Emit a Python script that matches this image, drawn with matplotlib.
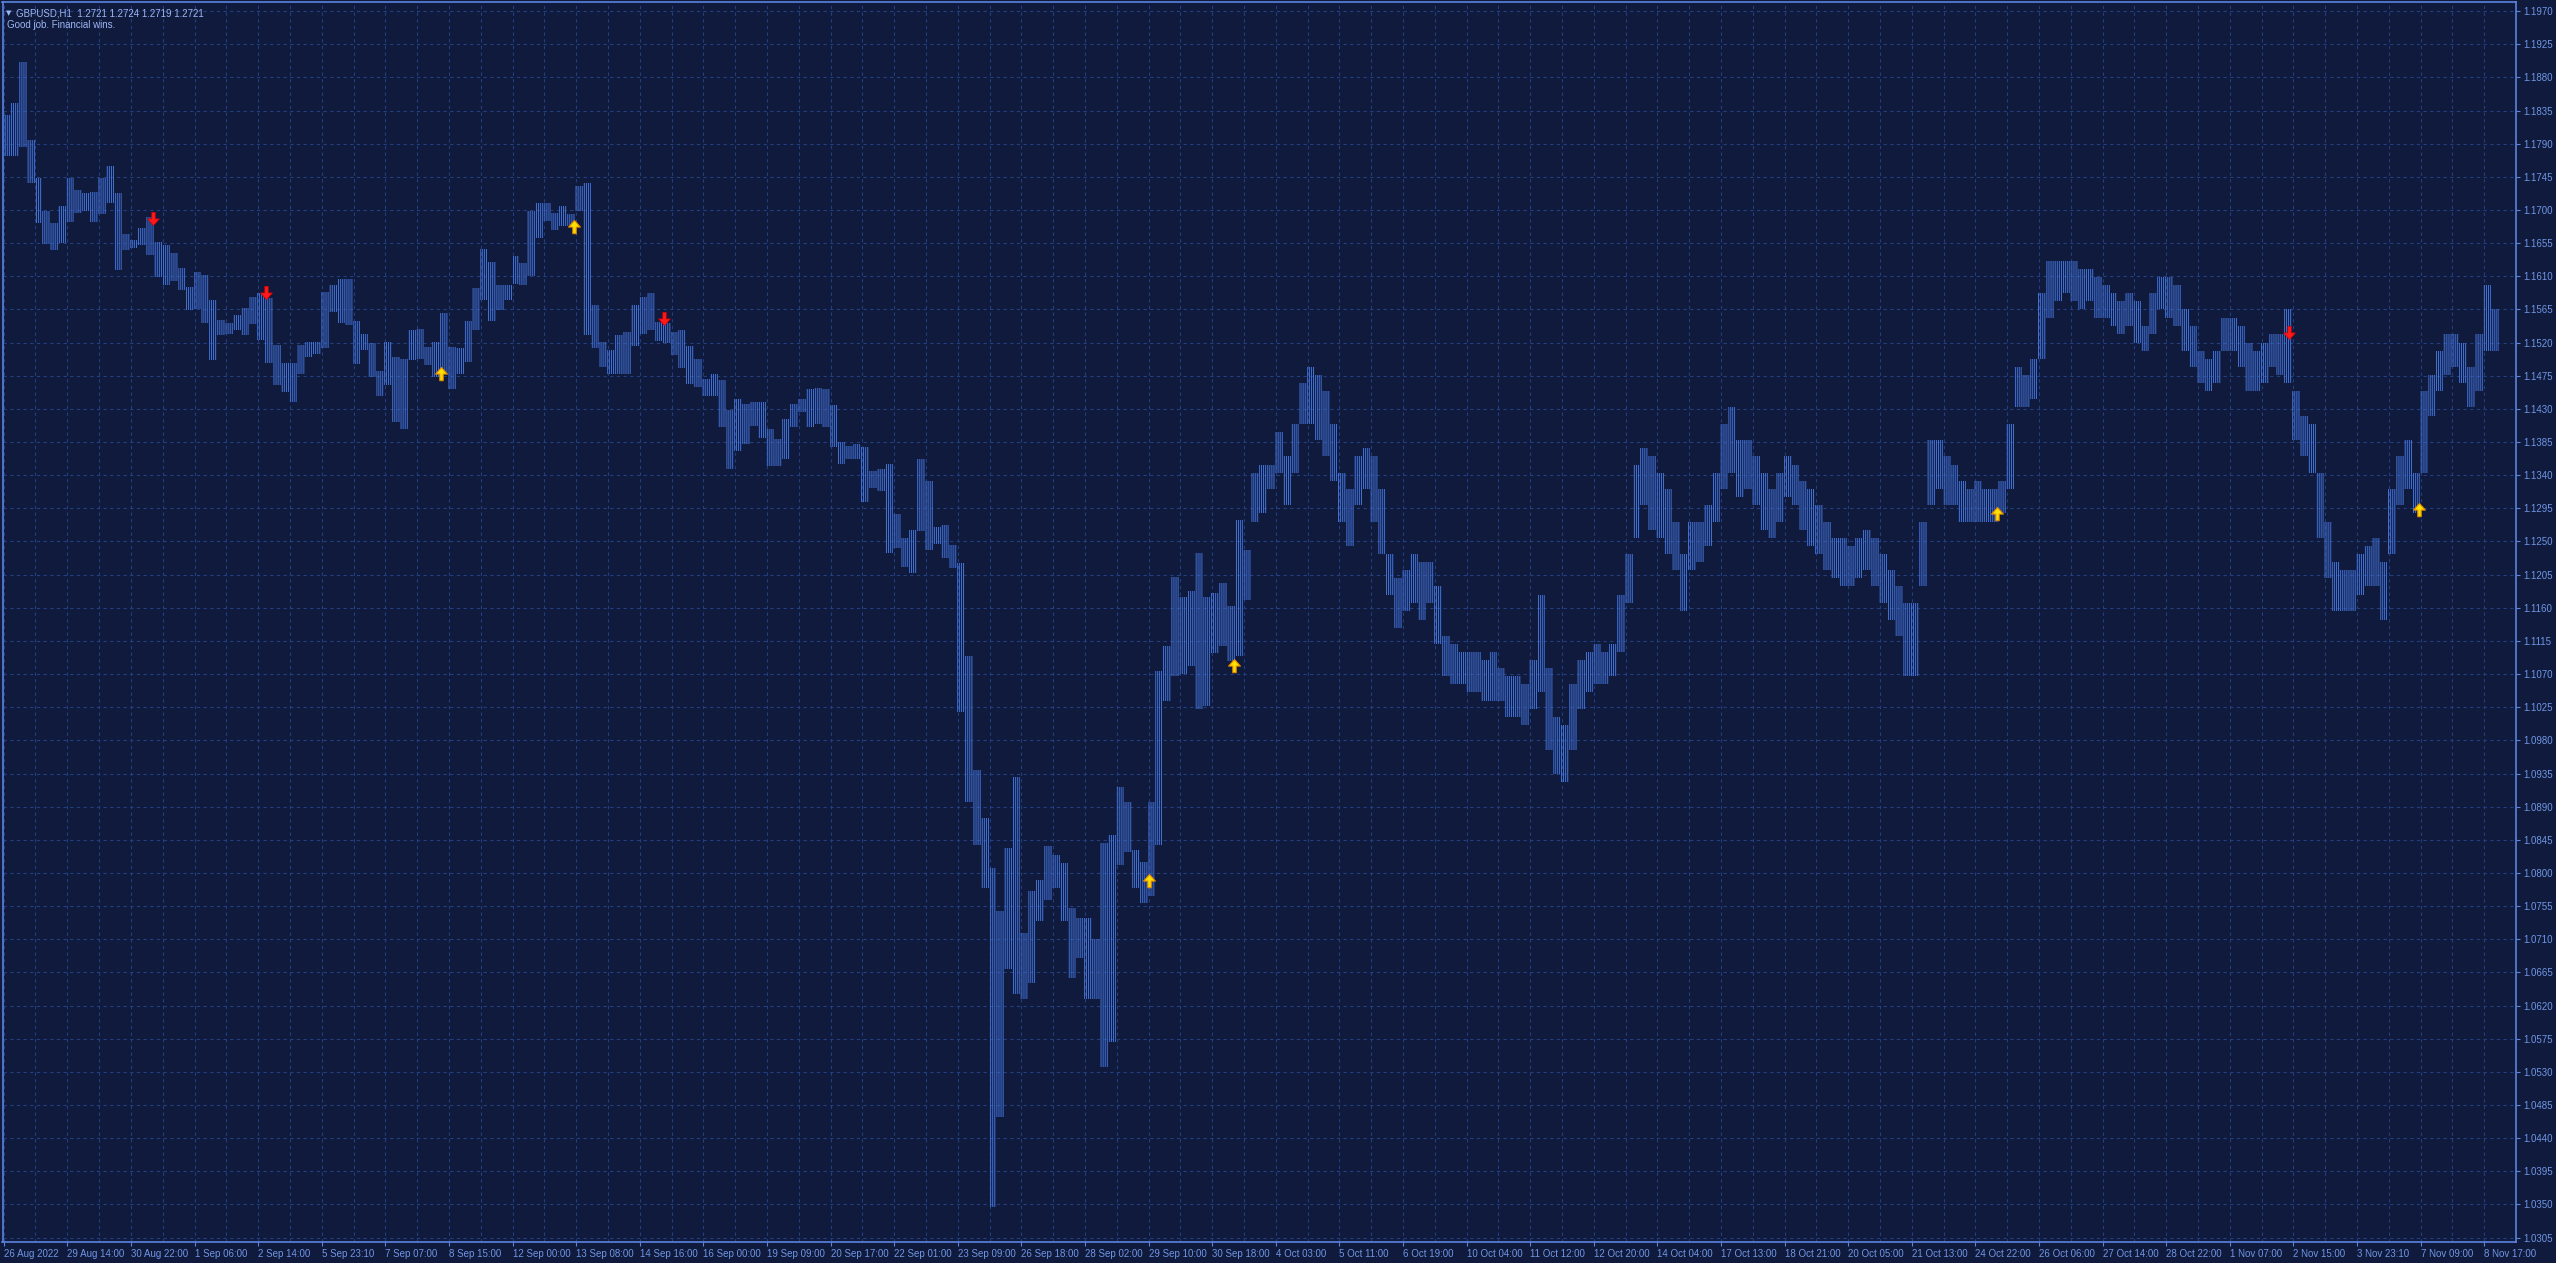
import matplotlib.pyplot as plt
import numpy as np
from matplotlib.path import Path

# GBPUSD H1, each entry = high / low of a block of 4 hourly bars
BARS_PER_BLOCK = 4
block_high = [
    1.1829, 1.1845, 1.1901, 1.1795, 1.1743, 1.1698, 1.1682, 1.1705, 1.1743, 1.1727,
    1.1723, 1.1725, 1.1743, 1.1760, 1.1723, 1.1667, 1.1659, 1.1675, 1.1691, 1.1657,
    1.1652, 1.1641, 1.1621, 1.1596, 1.1616, 1.1612, 1.1578, 1.1551, 1.1546, 1.1557,
    1.1567, 1.1582, 1.1587, 1.1580, 1.1517, 1.1492, 1.1492, 1.1517, 1.1521, 1.1521,
    1.1589, 1.1598, 1.1607, 1.1607, 1.1550, 1.1532, 1.1520, 1.1482, 1.1521, 1.1500,
    1.1498, 1.1537, 1.1539, 1.1514, 1.1521, 1.1560, 1.1514, 1.1512, 1.1550, 1.1594,
    1.1647, 1.1630, 1.1598, 1.1598, 1.1637, 1.1628, 1.1698, 1.1710, 1.1710, 1.1696,
    1.1705, 1.1694, 1.1732, 1.1737, 1.1571, 1.1521, 1.1510, 1.1530, 1.1535, 1.1571,
    1.1582, 1.1588, 1.1548, 1.1546, 1.1535, 1.1537, 1.1516, 1.1498, 1.1471, 1.1478,
    1.1469, 1.1428, 1.1444, 1.1437, 1.1439, 1.1439, 1.1403, 1.1389, 1.1416, 1.1437,
    1.1444, 1.1457, 1.1459, 1.1457, 1.1435, 1.1385, 1.1380, 1.1382, 1.1378, 1.1346,
    1.1348, 1.1355, 1.1287, 1.1255, 1.1266, 1.1362, 1.1332, 1.1269, 1.1272, 1.1245,
    1.1221, 1.1094, 1.0940, 1.0874, 1.0807, 1.0749, 1.0834, 1.0930, 1.0718, 1.0776,
    1.0790, 1.0836, 1.0824, 1.0814, 1.0752, 1.0739, 1.0739, 1.0711, 1.0841, 1.0852,
    1.0917, 1.0896, 1.0831, 1.0815, 1.0896, 1.1074, 1.1108, 1.1202, 1.1175, 1.1183,
    1.1235, 1.1175, 1.1180, 1.1194, 1.1163, 1.1279, 1.1239, 1.1343, 1.1354, 1.1354,
    1.1399, 1.1366, 1.1410, 1.1465, 1.1487, 1.1476, 1.1454, 1.1410, 1.1343, 1.1321,
    1.1366, 1.1377, 1.1366, 1.1321, 1.1233, 1.1200, 1.1211, 1.1233, 1.1222, 1.1222,
    1.1189, 1.1122, 1.1111, 1.1100, 1.1100, 1.1100, 1.1089, 1.1100, 1.1078, 1.1067,
    1.1067, 1.1056, 1.1089, 1.1178, 1.1078, 1.1012, 1.1001, 1.1056, 1.1089, 1.1100,
    1.1111, 1.1100, 1.1111, 1.1178, 1.1233, 1.1354, 1.1377, 1.1366, 1.1343, 1.1321,
    1.1277, 1.1233, 1.1277, 1.1277, 1.1299, 1.1343, 1.1410, 1.1432, 1.1388, 1.1388,
    1.1366, 1.1343, 1.1321, 1.1343, 1.1366, 1.1354, 1.1332, 1.1321, 1.1299, 1.1277,
    1.1255, 1.1255, 1.1244, 1.1255, 1.1266, 1.1255, 1.1233, 1.1211, 1.1189, 1.1166,
    1.1166, 1.1277, 1.1388, 1.1388, 1.1366, 1.1354, 1.1332, 1.1321, 1.1332, 1.1321,
    1.1321, 1.1332, 1.1410, 1.1487, 1.1476, 1.1498, 1.1587, 1.1631, 1.1631, 1.1631,
    1.1631, 1.1620, 1.1620, 1.1609, 1.1598, 1.1587, 1.1576, 1.1587, 1.1576, 1.1543,
    1.1587, 1.1609, 1.1609, 1.1598, 1.1565, 1.1543, 1.1509, 1.1498, 1.1509, 1.1554,
    1.1554, 1.1543, 1.1520, 1.1509, 1.1520, 1.1531, 1.1531, 1.1565, 1.1454, 1.1421,
    1.1410, 1.1343, 1.1277, 1.1222, 1.1211, 1.1211, 1.1233, 1.1244, 1.1255, 1.1222,
    1.1321, 1.1366, 1.1388, 1.1343, 1.1454, 1.1476, 1.1509, 1.1531, 1.1531, 1.1520,
    1.1487, 1.1531, 1.1598, 1.1565,
]
block_low = [
    1.1773, 1.1773, 1.1786, 1.1736, 1.1682, 1.1654, 1.1646, 1.1655, 1.1684, 1.1696,
    1.1698, 1.1684, 1.1695, 1.1709, 1.1619, 1.1646, 1.1649, 1.1653, 1.1639, 1.1609,
    1.1598, 1.1603, 1.1591, 1.1564, 1.1565, 1.1547, 1.1496, 1.1530, 1.1532, 1.1537,
    1.1530, 1.1545, 1.1523, 1.1492, 1.1462, 1.1453, 1.1440, 1.1478, 1.1501, 1.1505,
    1.1512, 1.1562, 1.1547, 1.1544, 1.1491, 1.1510, 1.1473, 1.1448, 1.1462, 1.1412,
    1.1403, 1.1496, 1.1498, 1.1489, 1.1473, 1.1478, 1.1457, 1.1478, 1.1494, 1.1537,
    1.1578, 1.1550, 1.1564, 1.1578, 1.1600, 1.1598, 1.1610, 1.1662, 1.1685, 1.1673,
    1.1678, 1.1678, 1.1698, 1.1530, 1.1512, 1.1487, 1.1478, 1.1478, 1.1478, 1.1516,
    1.1532, 1.1537, 1.1522, 1.1520, 1.1503, 1.1485, 1.1464, 1.1460, 1.1448, 1.1448,
    1.1405, 1.1348, 1.1373, 1.1382, 1.1407, 1.1391, 1.1353, 1.1353, 1.1362, 1.1405,
    1.1426, 1.1405, 1.1410, 1.1405, 1.1378, 1.1355, 1.1362, 1.1362, 1.1303, 1.1323,
    1.1319, 1.1235, 1.1241, 1.1216, 1.1207, 1.1264, 1.1239, 1.1246, 1.1228, 1.1214,
    1.1019, 1.0896, 1.0838, 1.0780, 1.0346, 1.0469, 1.0670, 1.0636, 1.0629, 1.0650,
    1.0735, 1.0763, 1.0780, 1.0735, 1.0657, 1.0684, 1.0629, 1.0629, 1.0537, 1.0571,
    1.0811, 1.0828, 1.0780, 1.0759, 1.0769, 1.0838, 1.1033, 1.1067, 1.1070, 1.1081,
    1.1023, 1.1026, 1.1098, 1.1108, 1.1088, 1.1094, 1.1170, 1.1277, 1.1288, 1.1321,
    1.1343, 1.1299, 1.1343, 1.1410, 1.1410, 1.1388, 1.1366, 1.1332, 1.1277, 1.1244,
    1.1299, 1.1321, 1.1277, 1.1233, 1.1178, 1.1133, 1.1155, 1.1166, 1.1144, 1.1166,
    1.1111, 1.1067, 1.1056, 1.1056, 1.1045, 1.1045, 1.1034, 1.1034, 1.1034, 1.1012,
    1.1012, 1.1001, 1.1023, 1.1045, 1.0967, 1.0934, 1.0923, 1.0967, 1.1023, 1.1045,
    1.1056, 1.1056, 1.1067, 1.1100, 1.1166, 1.1255, 1.1299, 1.1266, 1.1255, 1.1233,
    1.1211, 1.1155, 1.1211, 1.1222, 1.1244, 1.1277, 1.1321, 1.1343, 1.1310, 1.1321,
    1.1299, 1.1266, 1.1255, 1.1277, 1.1310, 1.1299, 1.1266, 1.1244, 1.1233, 1.1211,
    1.1200, 1.1189, 1.1189, 1.1200, 1.1211, 1.1189, 1.1166, 1.1144, 1.1122, 1.1067,
    1.1067, 1.1189, 1.1299, 1.1321, 1.1299, 1.1299, 1.1277, 1.1277, 1.1277, 1.1277,
    1.1277, 1.1288, 1.1321, 1.1432, 1.1432, 1.1443, 1.1498, 1.1554, 1.1576, 1.1587,
    1.1576, 1.1565, 1.1576, 1.1554, 1.1554, 1.1543, 1.1531, 1.1543, 1.1520, 1.1509,
    1.1531, 1.1565, 1.1554, 1.1543, 1.1509, 1.1487, 1.1465, 1.1454, 1.1465, 1.1509,
    1.1509, 1.1487, 1.1454, 1.1454, 1.1465, 1.1487, 1.1476, 1.1465, 1.1388, 1.1366,
    1.1343, 1.1255, 1.1200, 1.1155, 1.1155, 1.1155, 1.1178, 1.1189, 1.1189, 1.1144,
    1.1233, 1.1299, 1.1321, 1.1288, 1.1343, 1.1421, 1.1454, 1.1476, 1.1487, 1.1465,
    1.1432, 1.1454, 1.1509, 1.1509,
]

# signal arrows: bar index and price of the arrow tip
sell_bar = [75, 132, 332, 1150]
sell_price = [1.1680, 1.1579, 1.1544, 1.1525]
buy_bar = [220, 287, 576, 619, 1003, 1215]
buy_price = [1.1487, 1.1686, 1.0799, 1.1090, 1.1297, 1.1302]

date_labels = [
    '26 Aug 2022', '29 Aug 14:00', '30 Aug 22:00', '1 Sep 06:00', '2 Sep 14:00',
    '5 Sep 23:10', '7 Sep 07:00', '8 Sep 15:00', '12 Sep 00:00', '13 Sep 08:00',
    '14 Sep 16:00', '16 Sep 00:00', '19 Sep 09:00', '20 Sep 17:00', '22 Sep 01:00',
    '23 Sep 09:00', '26 Sep 18:00', '28 Sep 02:00', '29 Sep 10:00', '30 Sep 18:00',
    '4 Oct 03:00', '5 Oct 11:00', '6 Oct 19:00', '10 Oct 04:00', '11 Oct 12:00',
    '12 Oct 20:00', '14 Oct 04:00', '17 Oct 13:00', '18 Oct 21:00', '20 Oct 05:00',
    '21 Oct 13:00', '24 Oct 22:00', '26 Oct 06:00', '27 Oct 14:00', '28 Oct 22:00',
    '1 Nov 07:00', '2 Nov 15:00', '3 Nov 23:10', '7 Nov 09:00', '8 Nov 17:00',
]
LABEL_EVERY = 32  # bars between date labels

BG = '#0f1a3c'
BAR = '#4270d4'
GRID = '#233f80'
FRAME = '#5b84dc'
TXT = '#7196e4'
HEAD = '#9db6f2'

plt.rcParams['hatch.linewidth'] = 0.75

W, H = 2556, 1263
fig = plt.figure(figsize=(W / 100, H / 100), dpi=100, facecolor=BG)
ax = fig.add_axes([2.5 / W, 21 / H, (2516 - 2.5) / W, (1242 - 1.7) / H])
ax.set_facecolor(BG)

hi = np.array(block_high)
lo = np.array(block_low)
xc = np.arange(len(hi)) * BARS_PER_BLOCK + BARS_PER_BLOCK / 2 - 0.5
# hatched blocks mimic the dense 1px hourly bars of the terminal
ax.bar(xc, hi - lo, bottom=lo, width=BARS_PER_BLOCK, facecolor='none', edgecolor=BAR,
       hatch='||||||||', linewidth=0, zorder=3)

# arrows drawn as custom markers, tip at the data point
down = Path([(0, 0), (0.45, 0.5), (0.13, 0.5), (0.13, 1), (-0.13, 1), (-0.13, 0.5),
             (-0.45, 0.5), (0, 0)], closed=True)
up = Path([(0, 0), (0.45, -0.5), (0.13, -0.5), (0.13, -1), (-0.13, -1), (-0.13, -0.5),
           (-0.45, -0.5), (0, 0)], closed=True)
ax.plot(sell_bar, sell_price, linestyle='none', marker=down, markersize=19,
        markerfacecolor='#ff1a1a', markeredgecolor='#d40000', markeredgewidth=0.5, zorder=5)
ax.plot(buy_bar, buy_price, linestyle='none', marker=up, markersize=19,
        markerfacecolor='#ffe000', markeredgecolor='#e08a00', markeredgewidth=0.8, zorder=5)

# axes limits in bar / price units
ax.set_xlim(-0.6, 1256.15)
ax.set_ylim(1.02990, 1.19828)

# price scale on the right
yt = np.round(1.0305 + 0.0045 * np.arange(38), 4)
ax.yaxis.tick_right()
ax.set_yticks(yt)
ax.set_yticklabels(['%.4f' % v for v in yt])
ax.set_xticks(np.arange(len(date_labels)) * LABEL_EVERY)
ax.set_xticklabels(date_labels)
ax.set_xticks(np.arange(len(date_labels)) * LABEL_EVERY + LABEL_EVERY / 2, minor=True)
for lab in ax.get_xticklabels():
    lab.set_horizontalalignment('left')
ax.tick_params(axis='both', which='both', colors=FRAME, labelcolor=TXT, labelsize=7,
               length=3, width=0.8, direction='out', pad=2)
ax.tick_params(axis='x', which='minor', length=0)
for lab in ax.get_xticklabels() + ax.get_yticklabels():
    lab.set_family('Liberation Sans')

ax.grid(True, which='both', color=GRID, linewidth=0.8, linestyle=(0, (3, 3)), zorder=1)
ax.set_axisbelow(True)
for s in ax.spines.values():
    s.set_color(FRAME)
    s.set_linewidth(1.2)

fig.text(6 / W, 1 - 13 / H, '\u25bc', color=HEAD, fontsize=5, va='center')
fig.text(16 / W, 1 - 13 / H, 'GBPUSD,H1  1.2721 1.2724 1.2719 1.2721', color=HEAD,
         fontsize=7, family='Liberation Sans', va='center')
fig.text(7 / W, 1 - 25 / H, 'Good job. Financial wins.', color=HEAD,
         fontsize=7, family='Liberation Sans', va='center')

fig.savefig('out.png', dpi=100, facecolor=BG)
